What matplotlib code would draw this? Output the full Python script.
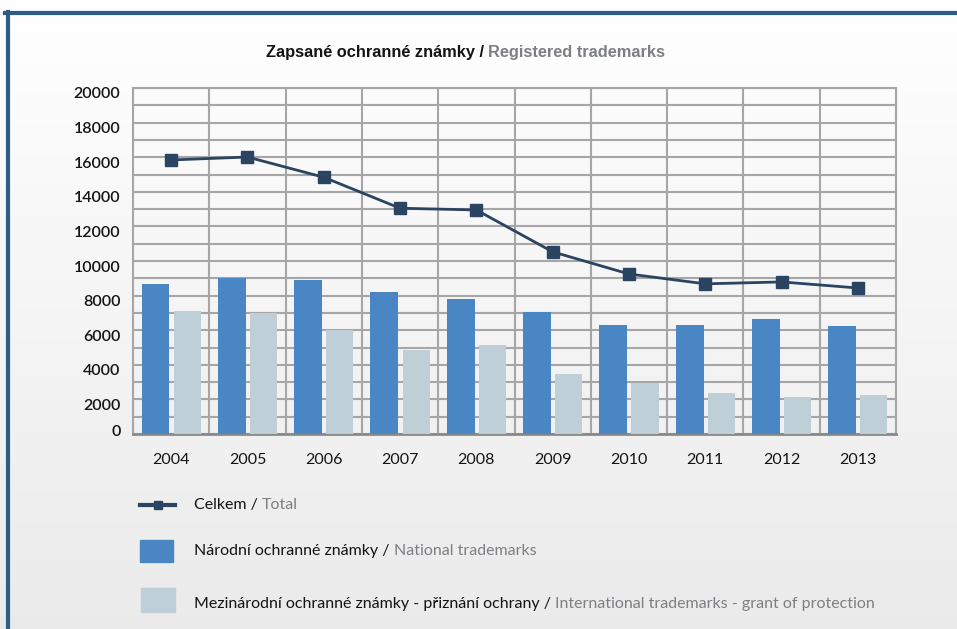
import numpy as np
import matplotlib
matplotlib.use("Agg")
import matplotlib.pyplot as plt
from matplotlib.lines import Line2D
from matplotlib.patches import Rectangle
from matplotlib.transforms import ScaledTranslation

# data
years = ['2004', '2005', '2006', '2007', '2008', '2009', '2010', '2011', '2012', '2013']
national = [8670, 9020, 8880, 8220, 7800, 7050, 6320, 6320, 6630, 6240]
international = [7130, 7010, 6010, 4880, 5150, 3480, 2970, 2390, 2160, 2230]
total = [15840, 16010, 14840, 13050, 12950, 10530, 9250, 8680, 8790, 8440]
yticks = [0, 2000, 4000, 6000, 8000, 10000, 12000, 14000, 16000, 18000, 20000]

W, H = 957, 629
DARK_BLUE = '#4a86c4'
LIGHT_BLUE = '#bfcfd8'
NAVY = '#2b4461'
GRID = '#a6a6a6'
BLACK_TXT = '#141414'
GRAY_TXT = '#7d7f83'

plt.rcParams['font.family'] = ['Lato', 'DejaVu Sans']

fig = plt.figure(figsize=(W / 100, H / 100), dpi=100)

def px(x, y):
    return x / W, 1 - y / H

# background gradient
bg = fig.add_axes([0, 0, 1, 1], zorder=-10)
grad = np.linspace(1.0, 0.92, 256).reshape(-1, 1)
bg.imshow(np.dstack([grad, grad, grad]), aspect='auto', extent=[0, 1, 0, 1])
bg.axis('off')

# frame lines top and left
fig.add_artist(Line2D([5 / W, 1], [1 - 13 / H] * 2, transform=fig.transFigure,
                      color='#2d5d86', lw=3))
fig.add_artist(Line2D([8 / W] * 2, [0, 1 - 12 / H], transform=fig.transFigure,
                      color='#2d5d86', lw=3))

left, right, top, bottom = 133, 896, 88, 434
ax = fig.add_axes([left / W, 1 - bottom / H, (right - left) / W, (bottom - top) / H])
ax.patch.set_alpha(0)

x = np.arange(len(years))
ax.bar(x - 0.205, national, width=0.365, color=DARK_BLUE, zorder=3)
ax.bar(x + 0.21, international, width=0.355, color=LIGHT_BLUE, zorder=3)
ax.plot(x, total, color=NAVY, lw=2, marker='s', markersize=9,
        markerfacecolor=NAVY, markeredgecolor=NAVY, zorder=4)

ax.set_xlim(-0.5, len(years) - 0.5)
ax.set_ylim(0, 20000)
ax.set_yticks(yticks)
ax.set_yticklabels([str(v) for v in yticks])
ax.set_yticks(np.arange(1000, 20000, 2000), minor=True)
ax.set_xticks(x)
ax.set_xticklabels(years)
ax.set_xticks(np.arange(0.5, len(years) - 0.5, 1), minor=True)

ax.grid(True, which='both', color=GRID, lw=1.5, zorder=0)
ax.grid(False, which='major', axis='x')
ax.tick_params(which='both', length=0)
ax.tick_params(axis='y', pad=9, labelsize=11.5, labelcolor=BLACK_TXT)
ax.tick_params(axis='x', pad=14, labelsize=11.5, labelcolor=BLACK_TXT)
for lab in ax.get_yticklabels():
    lab.set_fontweight('semibold')
for s in ['left', 'right', 'top']:
    ax.spines[s].set_color(GRID)
    ax.spines[s].set_linewidth(1.5)
ax.spines['bottom'].set_color('#8a8a8a')
ax.spines['bottom'].set_linewidth(2)

# labels in the original sit a little below their gridlines
for v, lab in zip(yticks, ax.get_yticklabels()):
    dy = 0.04 if v == 0 else -0.05
    lab.set_transform(lab.get_transform() + ScaledTranslation(0, dy, fig.dpi_scale_trans))

renderer = fig.canvas.get_renderer()

def two_tone(xp, yp, first, second, size, family=None, weight='normal', gap=4):
    kw = dict(fontsize=size, va='center', ha='left', fontweight=weight,
              transform=fig.transFigure)
    if family:
        kw['family'] = family
    t1 = fig.text(*px(xp, yp), first, color=BLACK_TXT, **kw)
    bb = t1.get_window_extent(renderer)
    fig.text(*px(bb.x1 + gap, yp), second, color=GRAY_TXT, **kw)
    return bb

# title
title_kw = dict(family=['Liberation Sans Narrow', 'Liberation Sans', 'DejaVu Sans'])
t = fig.text(0, 0, 'Zapsané ochranné známky /', fontsize=11.8, fontweight='bold', **title_kw)
w1 = t.get_window_extent(renderer).width
t.remove()
two_tone(484 - w1, 52, 'Zapsané ochranné známky /', 'Registered trademarks', 11.8,
         family=title_kw['family'], weight='bold', gap=4)

# legend
fig.add_artist(Line2D([140 / W, 175 / W], [1 - 505 / H] * 2, transform=fig.transFigure,
                      color=NAVY, lw=3))
fig.add_artist(Line2D([157.5 / W], [1 - 505 / H], transform=fig.transFigure,
                      color=NAVY, marker='s', markersize=6, lw=0))
fig.add_artist(Rectangle(px(140, 562), 33 / W, 22 / H, transform=fig.transFigure,
                         color=DARK_BLUE))
fig.add_artist(Rectangle(px(141, 612), 34 / W, 24 / H, transform=fig.transFigure,
                         color=LIGHT_BLUE))
two_tone(194, 505, 'Celkem /', 'Total', 11.5)
two_tone(194, 551, 'Národní ochranné známky /', 'National trademarks', 11.5)
two_tone(194, 604, 'Mezinárodní ochranné známky - přiznání ochrany /',
         'International trademarks - grant of protection', 11.5)

fig.savefig('out.png', dpi=100)
